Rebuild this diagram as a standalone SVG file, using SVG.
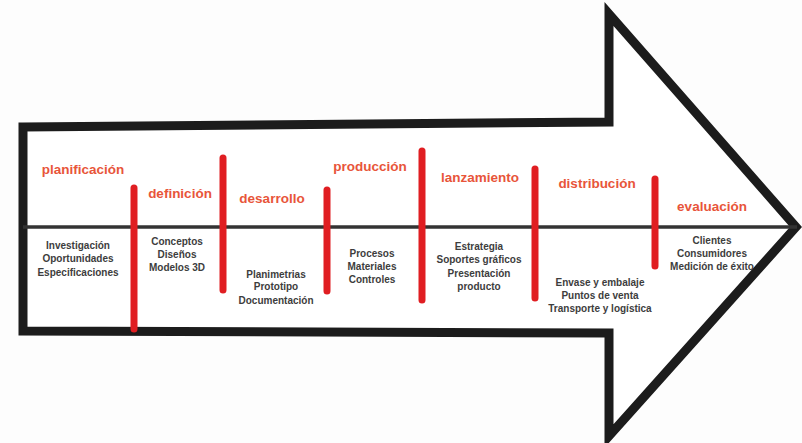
<svg xmlns="http://www.w3.org/2000/svg" width="802" height="443" viewBox="0 0 802 443">
  <style>
    .outline { fill: #ffffff; stroke: #1c1c1c; stroke-width: 9; stroke-linejoin: miter; stroke-miterlimit: 10; }
    .axis { stroke: #333333; stroke-width: 3.5; fill: none; }
    .bar { stroke: #e01e22; stroke-width: 7; stroke-linecap: round; fill: none; }
    .title { font-family: "Liberation Sans", Arial, sans-serif; font-weight: bold; font-size: 13.5px; fill: #e8553a; text-anchor: middle; }
    .item { font-family: "Liberation Sans", Arial, sans-serif; font-weight: bold; font-size: 10px; fill: #3d3d3d; text-anchor: middle; }
  </style>

  <rect width="802" height="443" fill="#fdfdfd"/>

  <!-- big arrow outline -->
  <path class="outline" d="M23,127 L609,122 L609,14 L796,227 L609,436 L609,333 L23,331 Z"/>

  <!-- timeline axis and phase separators -->
  <g id="connectors">
    <line class="axis" x1="23" y1="227" x2="797" y2="227"/>
    <line class="bar" x1="134" y1="188" x2="134" y2="329"/>
    <line class="bar" x1="223" y1="158" x2="223" y2="290"/>
    <line class="bar" x1="327" y1="190" x2="327" y2="291"/>
    <line class="bar" x1="422" y1="151" x2="422" y2="300"/>
    <line class="bar" x1="535" y1="169" x2="535" y2="298"/>
    <line class="bar" x1="655" y1="179" x2="655" y2="266"/>
  </g>

  <g id="planificacion">
    <text class="title" x="83" y="174">planificación</text>
    <text class="item" x="78" y="249">Investigación</text>
    <text class="item" x="78" y="262">Oportunidades</text>
    <text class="item" x="78" y="276">Especificaciones</text>
  </g>

  <g id="definicion">
    <text class="title" x="180" y="198">definición</text>
    <text class="item" x="177" y="245">Conceptos</text>
    <text class="item" x="177" y="258">Diseños</text>
    <text class="item" x="177" y="271">Modelos 3D</text>
  </g>

  <g id="desarrollo">
    <text class="title" x="272" y="203">desarrollo</text>
    <text class="item" x="276" y="278">Planimetrias</text>
    <text class="item" x="276" y="290">Prototipo</text>
    <text class="item" x="276" y="304">Documentación</text>
  </g>

  <g id="produccion">
    <text class="title" x="370" y="171">producción</text>
    <text class="item" x="372" y="257">Procesos</text>
    <text class="item" x="372" y="270">Materiales</text>
    <text class="item" x="372" y="283">Controles</text>
  </g>

  <g id="lanzamiento">
    <text class="title" x="480" y="182">lanzamiento</text>
    <text class="item" x="479" y="250">Estrategia</text>
    <text class="item" x="479" y="263">Soportes gráficos</text>
    <text class="item" x="479" y="277">Presentación</text>
    <text class="item" x="479" y="290">producto</text>
  </g>

  <g id="distribucion">
    <text class="title" x="597" y="188">distribución</text>
    <text class="item" x="600" y="286">Envase y embalaje</text>
    <text class="item" x="600" y="299">Puntos de venta</text>
    <text class="item" x="600" y="312">Transporte y logística</text>
  </g>

  <g id="evaluacion">
    <text class="title" x="712" y="211">evaluación</text>
    <text class="item" x="712" y="244">Clientes</text>
    <text class="item" x="712" y="257">Consumidores</text>
    <text class="item" x="712" y="270">Medición de éxito</text>
  </g>
</svg>
